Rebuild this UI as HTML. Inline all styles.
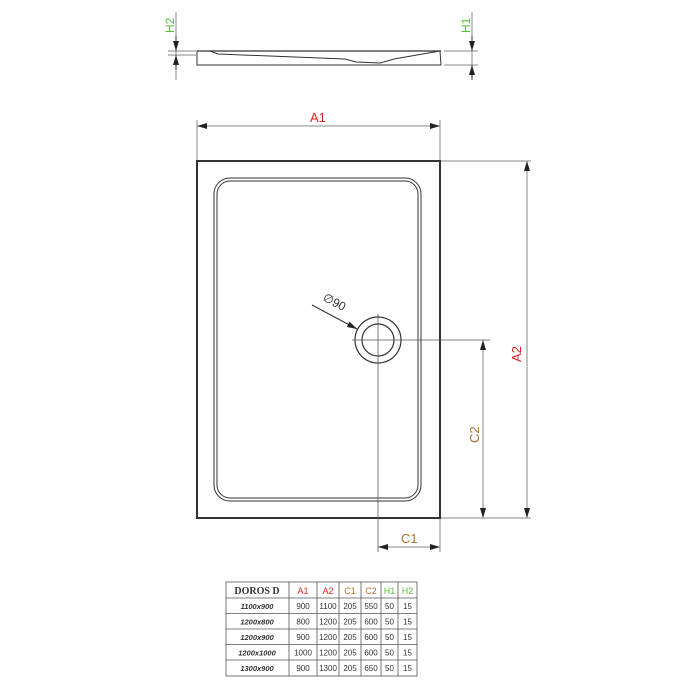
<!DOCTYPE html>
<html><head><style>
body{margin:0;background:#fff}
svg{display:block}
text{font-family:"Liberation Sans",sans-serif}
</style></head><body>
<svg width="700" height="700" viewBox="0 0 700 700">
<defs>
<marker id="ar" viewBox="0 0 10 6" refX="10" refY="3" markerWidth="10" markerHeight="6" orient="auto-start-reverse" markerUnits="userSpaceOnUse"><path d="M0,0 L10,3 L0,6z" fill="#222"/></marker>
</defs>
<g stroke="#333" fill="none">
<!-- side view -->
<path d="M197,51 L210,51 L218,54 L345,59 L356,62 L380,63 L394,59 L440,51 L441,65 L197,65 Z" stroke-width="1"/>
<line x1="197" y1="51" x2="441" y2="51" stroke-width="1.3"/>
<line x1="176" y1="12" x2="176" y2="80" stroke="#888"/>
<line x1="168" y1="51" x2="196" y2="51" stroke="#888"/>
<line x1="168" y1="55" x2="196" y2="55" stroke="#888"/>
<line x1="176" y1="36" x2="176" y2="51" marker-end="url(#ar)"/>
<line x1="176" y1="70" x2="176" y2="55" marker-end="url(#ar)"/>
<line x1="472" y1="12" x2="472" y2="80" stroke="#888"/>
<line x1="444" y1="51" x2="478" y2="51" stroke="#888"/>
<line x1="444" y1="65" x2="478" y2="65" stroke="#888"/>
<line x1="472" y1="36" x2="472" y2="51" marker-end="url(#ar)"/>
<line x1="472" y1="80" x2="472" y2="65" marker-end="url(#ar)"/>
<!-- plan -->
<rect x="197" y="161" width="243" height="357" stroke-width="2"/>
<rect x="214" y="178" width="207" height="323" rx="16" stroke-width="1"/>
<rect x="217" y="181" width="201" height="317" rx="13" stroke-width="1"/>
<circle cx="378" cy="340" r="23" stroke-width="1.2"/>
<circle cx="378" cy="340" r="16" stroke-width="1.2"/>
<line x1="378" y1="314" x2="378" y2="552" stroke="#555" stroke-width="0.8"/>
<line x1="352" y1="340" x2="490" y2="340" stroke="#555" stroke-width="0.8"/>
<line x1="312" y1="305" x2="357" y2="329" marker-end="url(#ar)"/>
<!-- A1 -->
<line x1="197" y1="120" x2="197" y2="160" stroke="#888"/>
<line x1="440" y1="120" x2="440" y2="160" stroke="#888"/>
<line x1="197" y1="126" x2="440" y2="126" stroke="#888" marker-start="url(#ar)" marker-end="url(#ar)"/>
<!-- A2 -->
<line x1="441" y1="161" x2="531" y2="161" stroke="#888"/>
<line x1="441" y1="518" x2="531" y2="518" stroke="#888"/>
<line x1="527" y1="161" x2="527" y2="518" stroke="#888" marker-start="url(#ar)" marker-end="url(#ar)"/>
<!-- C2 -->
<line x1="483" y1="340" x2="483" y2="518" stroke="#888" marker-start="url(#ar)" marker-end="url(#ar)"/>
<!-- C1 -->
<line x1="440" y1="519" x2="440" y2="552" stroke="#888"/>
<line x1="378" y1="547" x2="440" y2="547" stroke="#888" marker-start="url(#ar)" marker-end="url(#ar)"/>
</g>
<g font-size="13">
<text x="310" y="122" fill="#e02020">A1</text>
<text transform="translate(521,362) rotate(-90)" fill="#e02020">A2</text>
<text transform="translate(479,443) rotate(-90)" fill="#b07030">C2</text>
<text x="401" y="543" fill="#b07030">C1</text>
<text transform="translate(322,300) rotate(28)" fill="#333" font-size="12">∅90</text>
<text transform="translate(174,33) rotate(-90)" fill="#5cbf3c" font-size="12">H2</text>
<text transform="translate(470,33) rotate(-90)" fill="#5cbf3c" font-size="12">H1</text>
</g>
<!-- table -->
<g stroke="#555" stroke-width="0.8" fill="none">
<rect x="226" y="582" width="191" height="94"/>
<line x1="226" y1="598" x2="417" y2="598"/>
<line x1="226" y1="613.5" x2="417" y2="613.5"/>
<line x1="226" y1="629" x2="417" y2="629"/>
<line x1="226" y1="644.5" x2="417" y2="644.5"/>
<line x1="226" y1="660" x2="417" y2="660"/>
<line x1="289" y1="582" x2="289" y2="676"/>
<line x1="317" y1="582" x2="317" y2="676"/>
<line x1="339" y1="582" x2="339" y2="676"/>
<line x1="361" y1="582" x2="361" y2="676"/>
<line x1="381" y1="582" x2="381" y2="676"/>
<line x1="398" y1="582" x2="398" y2="676"/>
</g>
<g font-size="8" text-anchor="middle" fill="#333">
<text x="257" y="594" font-weight="bold" font-size="10" style="font-family:'Liberation Serif',serif">DOROS D</text>
<text x="303" y="594" fill="#e02020" font-size="9">A1</text>
<text x="328" y="594" fill="#e02020" font-size="9">A2</text>
<text x="350" y="594" fill="#b07030" font-size="9">C1</text>
<text x="371" y="594" fill="#b07030" font-size="9">C2</text>
<text x="389.5" y="594" fill="#5cbf3c" font-size="9">H1</text>
<text x="407.5" y="594" fill="#5cbf3c" font-size="9">H2</text>
<g font-style="italic" font-weight="bold" font-size="7.5">
<text x="257" y="609">1100x900</text>
<text x="257" y="624.5">1200x800</text>
<text x="257" y="640">1200x900</text>
<text x="257" y="655.5">1200x1000</text>
<text x="257" y="671">1300x900</text>
</g>
<text x="303" y="609">900</text><text x="328" y="609">1100</text><text x="350" y="609">205</text><text x="371" y="609">550</text><text x="389.5" y="609">50</text><text x="407.5" y="609">15</text>
<text x="303" y="624.5">800</text><text x="328" y="624.5">1200</text><text x="350" y="624.5">205</text><text x="371" y="624.5">600</text><text x="389.5" y="624.5">50</text><text x="407.5" y="624.5">15</text>
<text x="303" y="640">900</text><text x="328" y="640">1200</text><text x="350" y="640">205</text><text x="371" y="640">600</text><text x="389.5" y="640">50</text><text x="407.5" y="640">15</text>
<text x="303" y="655.5">1000</text><text x="328" y="655.5">1200</text><text x="350" y="655.5">205</text><text x="371" y="655.5">600</text><text x="389.5" y="655.5">50</text><text x="407.5" y="655.5">15</text>
<text x="303" y="671">900</text><text x="328" y="671">1300</text><text x="350" y="671">205</text><text x="371" y="671">650</text><text x="389.5" y="671">50</text><text x="407.5" y="671">15</text>
</g>
</svg>
</body></html>
